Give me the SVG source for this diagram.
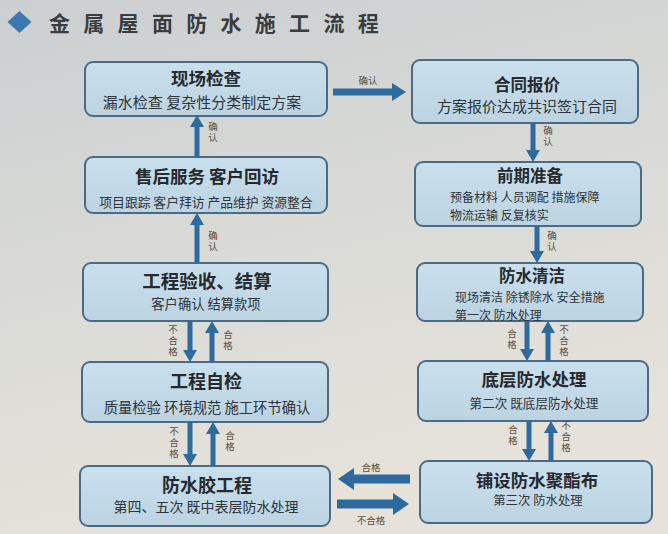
<svg xmlns="http://www.w3.org/2000/svg" width="668" height="534" viewBox="0 0 668 534">
<defs>
<linearGradient id="bg" x1="0" y1="0" x2="0.3" y2="1">
<stop offset="0" stop-color="#cbcfd1"/>
<stop offset="0.5" stop-color="#d9dad6"/>
<stop offset="1" stop-color="#e6e2da"/>
</linearGradient>
<linearGradient id="boxfill" x1="0" y1="0" x2="0" y2="1">
<stop offset="0" stop-color="#c9dfec"/>
<stop offset="1" stop-color="#bcd3e2"/>
</linearGradient>
<style>
.box{fill:url(#boxfill);stroke:#4b6a86;stroke-width:2}
.t{font-family:"Noto Sans CJK SC","Noto Sans",sans-serif;font-weight:bold;fill:#262a2e;text-anchor:middle;dominant-baseline:central}
.s{font-family:"Noto Sans CJK SC","Noto Sans",sans-serif;fill:#2e3338;text-anchor:middle;dominant-baseline:central}
.sl{font-family:"Noto Sans CJK SC","Noto Sans",sans-serif;fill:#2e3338;dominant-baseline:central}
.arr{fill:#2d6a9d}
.lbl{font-family:"Noto Sans CJK SC","Noto Sans",sans-serif;font-size:9.5px;fill:#5a4c40;text-anchor:middle;dominant-baseline:central}
.vl{font-family:"Noto Sans CJK SC","Noto Sans",sans-serif;font-size:9.5px;fill:#5a4c40;text-anchor:middle;writing-mode:vertical-rl;letter-spacing:1.5px;dominant-baseline:central}
</style>
</defs>
<rect x="0" y="0" width="668" height="534" fill="url(#bg)"/>
<g id="title">
<polygon points="19.5,11 31.5,22 19.5,33 7.5,22" fill="#3b78b0"/>
<text x="49" y="22" font-family="'Noto Sans CJK SC',sans-serif" font-size="21" font-weight="bold" fill="#3a3d40" letter-spacing="13.3" dominant-baseline="central">金属屋面防水施工流程</text>
</g>
<g id="node-xianchang">
<rect class="box" x="85" y="62" width="242" height="54" rx="8"/>
<text class="t" x="206" y="77" font-size="17.5">现场检查</text>
<text class="s" x="202" y="101" font-size="15">漏水检查 复杂性分类制定方案</text>
</g>
<g id="node-shouhou">
<rect class="box" x="85" y="157" width="242" height="56" rx="8"/>
<text class="t" x="207" y="175" font-size="17.5">售后服务 客户回访</text>
<text class="s" x="206" y="201" font-size="12.8">项目跟踪 客户拜访 产品维护 资源整合</text>
</g>
<g id="node-yanshou">
<rect class="box" x="83" y="263" width="245" height="58" rx="8"/>
<text class="t" x="207" y="280" font-size="18.5">工程验收、结算</text>
<text class="s" x="206" y="303" font-size="13.3">客户确认 结算款项</text>
</g>
<g id="node-zijian">
<rect class="box" x="82" y="362" width="246" height="60" rx="8"/>
<text class="t" x="206" y="380" font-size="18">工程自检</text>
<text class="s" x="207" y="406" font-size="14.3">质量检验 环境规范 施工环节确认</text>
</g>
<g id="node-fangshuijiao">
<rect class="box" x="80" y="466" width="250" height="60" rx="8"/>
<text class="t" x="207" y="484" font-size="18">防水胶工程</text>
<text class="s" x="206" y="506" font-size="14">第四、五次 既中表层防水处理</text>
</g>
<g id="node-hetong">
<rect class="box" x="412" y="60" width="226" height="63" rx="8"/>
<text class="t" x="527" y="84" font-size="16.5">合同报价</text>
<text class="s" x="527" y="105" font-size="15">方案报价达成共识签订合同</text>
</g>
<g id="node-qianqi">
<rect class="box" x="415" y="162" width="226" height="64" rx="8"/>
<text class="t" x="530" y="175" font-size="16.5">前期准备</text>
<text class="sl" x="450" y="196.5" font-size="12">预备材料 人员调配 措施保障<tspan x="450" dy="17.6">物流运输 反复核实</tspan></text>
</g>
<g id="node-qingjie">
<rect class="box" x="417" y="263" width="226" height="58" rx="8"/>
<text class="t" x="532" y="275" font-size="16.5">防水清洁</text>
<text class="sl" x="455" y="296.6" font-size="12">现场清洁 除锈除水 安全措施<tspan x="455" dy="17.6">第一次 防水处理</tspan></text>
</g>
<g id="node-diceng">
<rect class="box" x="418" y="361" width="230" height="60" rx="8"/>
<text class="t" x="534" y="378" font-size="17.5">底层防水处理</text>
<text class="s" x="534" y="402" font-size="12.6">第二次 既底层防水处理</text>
</g>
<g id="node-puse">
<rect class="box" x="420" y="461" width="232" height="62" rx="8"/>
<text class="t" x="537" y="479" font-size="17.5">铺设防水聚酯布</text>
<text class="s" x="538" y="500" font-size="12.4">第三次 防水处理</text>
</g>
<g id="connectors">
<polygon class="arr" points="194.5,157 199.5,157 199.5,127 204,127 197,115 190,127 194.5,127"/>
<polygon class="arr" points="194.5,263 199.5,263 199.5,225 204,225 197,213 190,225 194.5,225"/>
<polygon class="arr" points="187.5,321 192.5,321 192.5,350 197,350 190,362 183,350 187.5,350"/>
<polygon class="arr" points="209.5,362 214.5,362 214.5,333 219,333 212,321 205,333 209.5,333"/>
<polygon class="arr" points="187.5,422 192.5,422 192.5,454 197,454 190,466 183,454 187.5,454"/>
<polygon class="arr" points="210.5,466 215.5,466 215.5,434 220,434 213,422 206,434 210.5,434"/>
<polygon class="arr" points="333,88.5 392,88.5 392,83 406,92 392,101 392,95.5 333,95.5"/>
<polygon class="arr" points="530.5,123 535.5,123 535.5,150 540,150 533,162 526,150 530.5,150"/>
<polygon class="arr" points="534.5,226 539.5,226 539.5,251 544,251 537,263 530,251 534.5,251"/>
<polygon class="arr" points="524.5,321 529.5,321 529.5,349 534,349 527,361 520,349 524.5,349"/>
<polygon class="arr" points="545.5,361 550.5,361 550.5,333 555,333 548,321 541,333 545.5,333"/>
<polygon class="arr" points="526.5,421 531.5,421 531.5,449 536,449 529,461 522,449 526.5,449"/>
<polygon class="arr" points="548.5,461 553.5,461 553.5,433 558,433 551,421 544,433 548.5,433"/>
<polygon class="arr" points="410,474.5 354,474.5 354,468 338,479 354,490 354,483.5 410,483.5"/>
<polygon class="arr" points="337,499.5 393,499.5 393,493 409,504 393,515 393,508.5 337,508.5"/>
<text class="lbl" x="368" y="80">确认</text>
<text class="vl" x="213" y="133">确认</text>
<text class="vl" x="213" y="242">确认</text>
<text class="vl" x="173" y="341">不合格</text>
<text class="vl" x="228" y="341">合格</text>
<text class="vl" x="174" y="443">不合格</text>
<text class="vl" x="230" y="442">合格</text>
<text class="vl" x="548" y="137">确认</text>
<text class="vl" x="552" y="242">确认</text>
<text class="vl" x="512" y="340">合格</text>
<text class="vl" x="564" y="341">不合格</text>
<text class="vl" x="513" y="436">合格</text>
<text class="vl" x="566" y="437">不合格</text>
<text class="lbl" x="371" y="467">合格</text>
<text class="lbl" x="371" y="520">不合格</text>
</g>
</svg>
